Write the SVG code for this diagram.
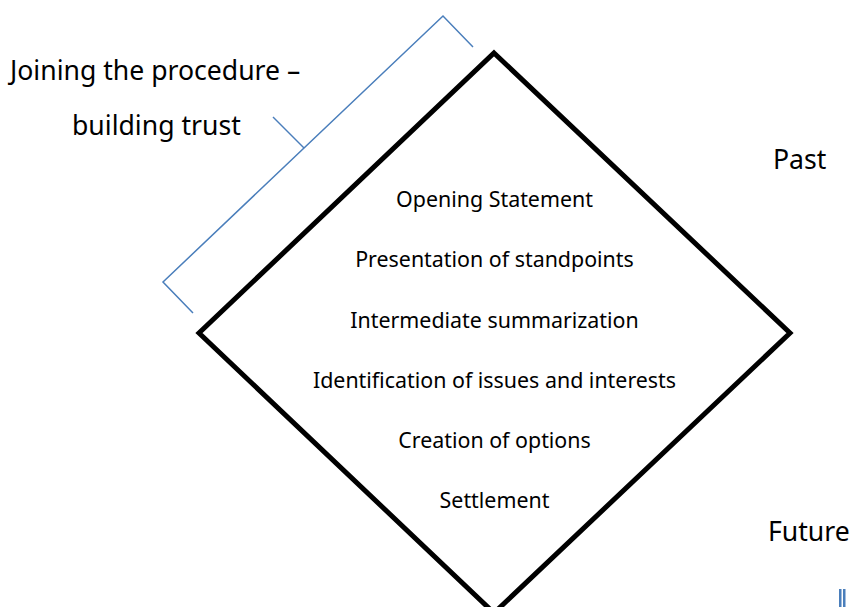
<svg xmlns="http://www.w3.org/2000/svg" width="852" height="607" viewBox="0 0 852 607">
<style>
text{font-family:"Noto Sans","Open Sans",sans-serif;fill:#000}
.s{font-size:21.4px;text-anchor:middle}
.l{font-size:26.6px}
.br{fill:none;stroke:#4a7ebb;stroke-width:1.5}
</style>
<rect width="852" height="607" fill="#fff"/>
<g id="diamond">
<polygon points="494,53 790,333 494,613 199,333" fill="#fff" stroke="#000" stroke-width="5" stroke-linejoin="miter"/>
<text class="s" x="494.5" y="207">Opening Statement</text>
<text class="s" x="494.5" y="267">Presentation of standpoints</text>
<text class="s" x="494.5" y="328">Intermediate summarization</text>
<text class="s" x="494.5" y="388">Identification of issues and interests</text>
<text class="s" x="494.5" y="448">Creation of options</text>
<text class="s" x="494.5" y="508">Settlement</text>
</g>
<g id="connectors">
<polyline class="br" points="473,47 443,16 163,282 193,313"/>
<line class="br" x1="273" y1="117" x2="304" y2="148"/>
</g>
<g id="label-joining">
<text class="l" x="10" y="80">Joining the procedure –</text>
<text class="l" x="72" y="135">building trust</text>
</g>
<g id="label-past"><text class="l" x="773" y="169">Past</text></g>
<g id="label-future"><text class="l" x="768" y="541">Future</text></g>
<g id="marks">
<rect x="839" y="589" width="2.5" height="18" fill="#4a7ebb"/>
<rect x="843" y="589" width="2.5" height="18" fill="#4a7ebb"/>
</g>
</svg>
